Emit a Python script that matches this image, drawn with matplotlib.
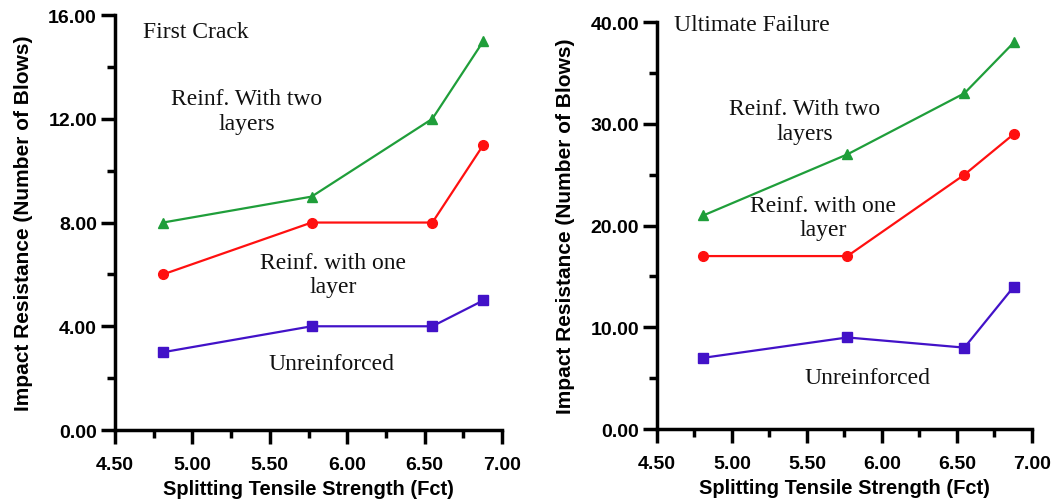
import matplotlib
matplotlib.use('Agg')
import matplotlib.pyplot as plt
from matplotlib.ticker import MultipleLocator, FormatStrFormatter

# splitting tensile strength (Fct)
fct = [4.81, 5.77, 6.55, 6.88]

# first crack
first_two = [8, 9, 12, 15]
first_one = [6, 8, 8, 11]
first_unr = [3, 4, 4, 5]

# ultimate failure
ult_two = [21, 27, 33, 38]
ult_one = [17, 17, 25, 29]
ult_unr = [7, 9, 8, 14]

green = '#1f9e3a'
red = '#ff1010'
blue = '#4212c8'

fig = plt.figure(figsize=(10.54, 5.02), dpi=100)
ax1 = fig.add_axes([0.1091, 0.1414, 0.3672, 0.8266])
ax2 = fig.add_axes([0.6233, 0.1434, 0.3557, 0.8106])

serif = 'Liberation Serif'
sans = 'Liberation Sans'


def style(ax, ymax, ystep):
    ax.set_xlim(4.5, 7.0)
    ax.set_ylim(0, ymax)
    for s in ['top', 'right']:
        ax.spines[s].set_visible(False)
    for s in ['left', 'bottom']:
        ax.spines[s].set_linewidth(2.5)
    ax.xaxis.set_major_locator(MultipleLocator(0.5))
    ax.xaxis.set_minor_locator(MultipleLocator(0.25))
    ax.yaxis.set_major_locator(MultipleLocator(ystep))
    ax.yaxis.set_minor_locator(MultipleLocator(ystep / 2))
    ax.xaxis.set_major_formatter(FormatStrFormatter('%.2f'))
    ax.yaxis.set_major_formatter(FormatStrFormatter('%.2f'))
    ax.tick_params(which='major', direction='out', length=10, width=2.5)
    ax.tick_params(which='minor', direction='out', length=5.5, width=2.5)
    ax.tick_params(axis='x', which='major', pad=9)
    ax.tick_params(axis='y', which='major', pad=3)
    for lab in ax.get_xticklabels() + ax.get_yticklabels():
        lab.set_fontfamily(sans)
        lab.set_fontweight('bold')
        lab.set_fontsize(14)
    ax.set_xlabel('Splitting Tensile Strength (Fct)', family=sans,
                  fontweight='bold', fontsize=14.5, labelpad=4)
    ax.set_ylabel('Impact Resistance (Number of Blows)', family=sans,
                  fontweight='bold', fontsize=15, labelpad=11)


style(ax1, 16, 4)
style(ax2, 40, 10)

ax1.plot(fct, first_two, color=green, marker='^', markersize=7, lw=1.6)
ax1.plot(fct, first_one, color=red, marker='o', markersize=7, lw=1.6)
ax1.plot(fct, first_unr, color=blue, marker='s', markersize=7, lw=1.6)

ax2.plot(fct, ult_two, color=green, marker='^', markersize=7, lw=1.6)
ax2.plot(fct, ult_one, color=red, marker='o', markersize=7, lw=1.6)
ax2.plot(fct, ult_unr, color=blue, marker='s', markersize=7, lw=1.6)

tkw = dict(family=serif, fontsize=17, color='#111111')
ax1.text(4.68, 15.38, 'First Crack', ha='left', va='center', **tkw)
ax1.text(5.353, 12.3, 'Reinf. With two\nlayers', ha='center', va='center',
         linespacing=1.2, **tkw)
ax1.text(5.908, 6.0, 'Reinf. with one\nlayer', ha='center', va='center',
         linespacing=1.2, **tkw)
ax1.text(5.90, 2.55, 'Unreinforced', ha='center', va='center', **tkw)

ax2.text(4.613, 39.8, 'Ultimate Failure', ha='left', va='center', **tkw)
ax2.text(5.487, 30.27, 'Reinf. With two\nlayers', ha='center', va='center',
         linespacing=1.2, **tkw)
ax2.text(5.607, 20.83, 'Reinf. with one\nlayer', ha='center', va='center',
         linespacing=1.2, **tkw)
ax2.text(5.907, 5.11, 'Unreinforced', ha='center', va='center', **tkw)

fig.savefig('out.png', dpi=100)
